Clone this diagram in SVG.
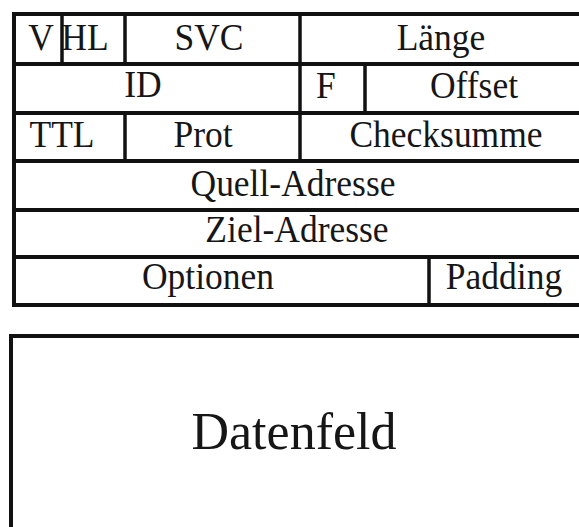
<svg xmlns="http://www.w3.org/2000/svg" width="579" height="527" viewBox="0 0 579 527">
<style>
.ln{stroke:#111;stroke-width:4;fill:none}
.vl{stroke:#111;stroke-width:3.5;fill:none}
.t{font-family:"Liberation Serif","Times New Roman",serif;font-size:35.5px;fill:#161616;text-anchor:middle}
.big{font-size:52px}
</style>
<rect width="579" height="527" fill="#fff"/>
<g id="header">
<rect class="ln" x="14" y="14" width="580" height="291"/>
<line class="ln" x1="14" y1="64" x2="590" y2="64"/>
<line class="ln" x1="14" y1="113" x2="590" y2="113"/>
<line class="ln" x1="14" y1="161" x2="590" y2="161"/>
<line class="ln" x1="14" y1="210" x2="590" y2="210"/>
<line class="ln" x1="14" y1="257" x2="590" y2="257"/>
<line class="vl" x1="62" y1="14" x2="62" y2="64"/>
<line class="vl" x1="125" y1="14" x2="125" y2="64"/>
<line class="vl" x1="300" y1="14" x2="300" y2="161"/>
<line class="vl" x1="365" y1="64" x2="365" y2="113"/>
<line class="vl" x1="125" y1="113" x2="125" y2="161"/>
<line class="vl" x1="429" y1="257" x2="429" y2="305"/>
</g>
<g id="V"><text class="t" x="41" y="0" transform="translate(0,50) scale(1,1.07)">V</text></g>
<g id="HL"><text class="t" x="85" y="0" transform="translate(0,50) scale(1,1.07)">HL</text></g>
<g id="SVC"><text class="t" x="209" y="0" transform="translate(0,50) scale(1,1.07)">SVC</text></g>
<g id="Laenge"><text class="t" x="441" y="0" transform="translate(0,50) scale(1,1.07)">Länge</text></g>
<g id="ID"><text class="t" x="143" y="0" transform="translate(0,97) scale(1,1.07)">ID</text></g>
<g id="F"><text class="t" x="326" y="0" transform="translate(0,98) scale(1,1.07)">F</text></g>
<g id="Offset"><text class="t" x="474" y="0" transform="translate(0,98) scale(1,1.07)">Offset</text></g>
<g id="TTL"><text class="t" x="62" y="0" transform="translate(0,147) scale(1,1.07)">TTL</text></g>
<g id="Prot"><text class="t" x="203" y="0" transform="translate(0,147) scale(1,1.07)">Prot</text></g>
<g id="Checksumme"><text class="t" x="446" y="0" transform="translate(0,147) scale(1,1.07)">Checksumme</text></g>
<g id="Quell"><text class="t" x="293" y="0" transform="translate(0,196) scale(1,1.07)">Quell-Adresse</text></g>
<g id="Ziel"><text class="t" x="297" y="0" transform="translate(0,242) scale(1,1.07)">Ziel-Adresse</text></g>
<g id="Optionen"><text class="t" x="208" y="0" transform="translate(0,289) scale(1,1.07)">Optionen</text></g>
<g id="Padding"><text class="t" x="504" y="0" transform="translate(0,289) scale(1,1.07)">Padding</text></g>
<g id="Datenfeld">
<rect class="ln" x="11" y="336" width="590" height="220"/>
<text class="t big" x="294" y="449">Datenfeld</text>
</g>
</svg>
